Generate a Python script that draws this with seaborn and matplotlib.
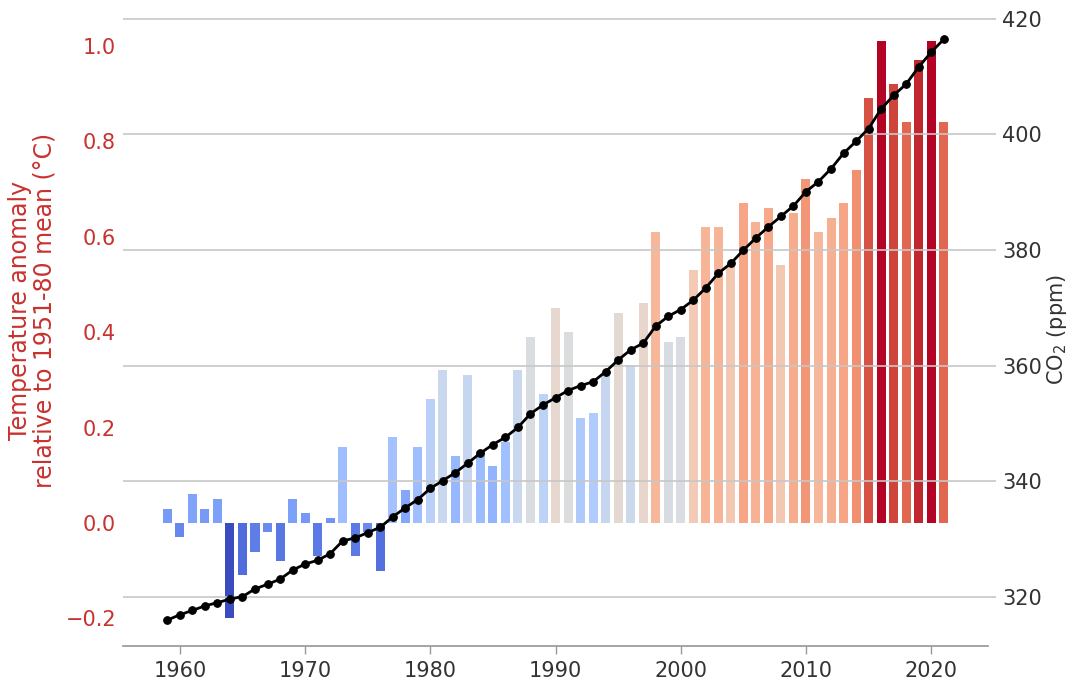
import numpy as np
import pandas as pd
import matplotlib
matplotlib.use("Agg")
import matplotlib.pyplot as plt
import seaborn as sns

years = list(range(1959, 2022))
temp_anomaly = [0.03, -0.03, 0.06, 0.03, 0.05, -0.20, -0.11, -0.06, -0.02, -0.08,
                0.05, 0.02, -0.07, 0.01, 0.16, -0.07, -0.02, -0.10, 0.18, 0.07,
                0.16, 0.26, 0.32, 0.14, 0.31, 0.15, 0.12, 0.17, 0.32, 0.39,
                0.27, 0.45, 0.40, 0.22, 0.23, 0.31, 0.44, 0.33, 0.46, 0.61,
                0.38, 0.39, 0.53, 0.62, 0.62, 0.54, 0.67, 0.63, 0.66, 0.54,
                0.65, 0.72, 0.61, 0.64, 0.67, 0.74, 0.89, 1.01, 0.92, 0.84,
                0.97, 1.01, 0.84]
co2_ppm = [315.98, 316.91, 317.64, 318.45, 318.99, 319.62, 320.04, 321.37, 322.18, 323.05,
           324.62, 325.68, 326.32, 327.46, 329.68, 330.19, 331.12, 332.03, 333.84, 335.41,
           336.84, 338.76, 340.12, 341.48, 343.15, 344.87, 346.35, 347.61, 349.31, 351.69,
           353.20, 354.45, 355.70, 356.54, 357.21, 358.96, 360.97, 362.74, 363.88, 366.84,
           368.54, 369.71, 371.32, 373.45, 375.98, 377.70, 379.98, 382.09, 384.02, 385.83,
           387.64, 390.10, 391.85, 394.06, 396.74, 398.81, 401.01, 404.41, 406.76, 408.72,
           411.66, 414.24, 416.45]
temp_ticks = [-0.2, 0.0, 0.2, 0.4, 0.6, 0.8, 1.0]
co2_ticks = [320, 340, 360, 380, 400, 420]
x_ticks = [1960, 1970, 1980, 1990, 2000, 2010, 2020]

sns.set_theme(style="white")
plt.rcParams['font.family'] = ['DejaVu Sans']

df = pd.DataFrame({"year": years, "temp": temp_anomaly, "co2": co2_ppm})
df["year_str"] = df["year"].astype(str)

cmap = plt.get_cmap("coolwarm")
norm = matplotlib.colors.Normalize(vmin=min(temp_anomaly), vmax=max(temp_anomaly))
palette = {ys: cmap(norm(t)) for ys, t in zip(df["year_str"], df["temp"])}

RED = "#c8322f"

fig = plt.figure(figsize=(10.67, 6.9), dpi=100)
ax = fig.add_axes([0.1153, 0.0638, 0.8107, 0.9181])
ax2 = ax.twinx()

sns.barplot(data=df, x="year", y="temp", hue="year_str", palette=palette,
            dodge=False, native_scale=True, saturation=1, errorbar=None,
            legend=False, width=0.72, linewidth=0, edgecolor="none", ax=ax)

sns.lineplot(data=df, x="year", y="co2", color="black", marker="o",
             markersize=5.5, markeredgecolor="black", linewidth=2, ax=ax2)

ax.set_xlim(1955.46, 2024.54)
ax.set_ylim(-0.258, 1.070)
ax2.set_ylim(311.5, 421.1)

ax.set_xticks(x_ticks)
ax.set_xticklabels([str(x) for x in x_ticks])
ax.set_yticks(temp_ticks)
ax.set_yticklabels([f"{t:.1f}".replace("-", "\u2212") for t in temp_ticks])
ax2.set_yticks(co2_ticks)

ax.grid(False)
ax2.grid(axis="y", color="0.78", linewidth=1.2)
ax2.grid(axis="x", visible=False)

ax.tick_params(axis="y", length=0, labelcolor=RED, labelsize=15, pad=5)
ax.tick_params(axis="x", length=6, color="0.6", width=1, labelcolor="0.2",
               labelsize=15, bottom=True, pad=5)
ax2.tick_params(axis="y", length=6, color="0.78", width=1.2, labelcolor="0.2",
                labelsize=15, right=True, pad=4)

for s in ["left", "top", "right"]:
    ax.spines[s].set_visible(False)
ax.spines["bottom"].set_color("0.6")
for s in ax2.spines.values():
    s.set_visible(False)

ax.set_xlabel("")
ax.set_ylabel("Temperature anomaly\nrelative to 1951-80 mean (°C)",
              color=RED, fontsize=17, linespacing=1.0)
ax.yaxis.set_label_coords(-0.077, 0.53)
ax2.set_xlabel("")
ax2.set_ylabel("CO$_2$ (ppm)", color="0.2", fontsize=15, labelpad=2)

fig.savefig("out.png", dpi=100)
